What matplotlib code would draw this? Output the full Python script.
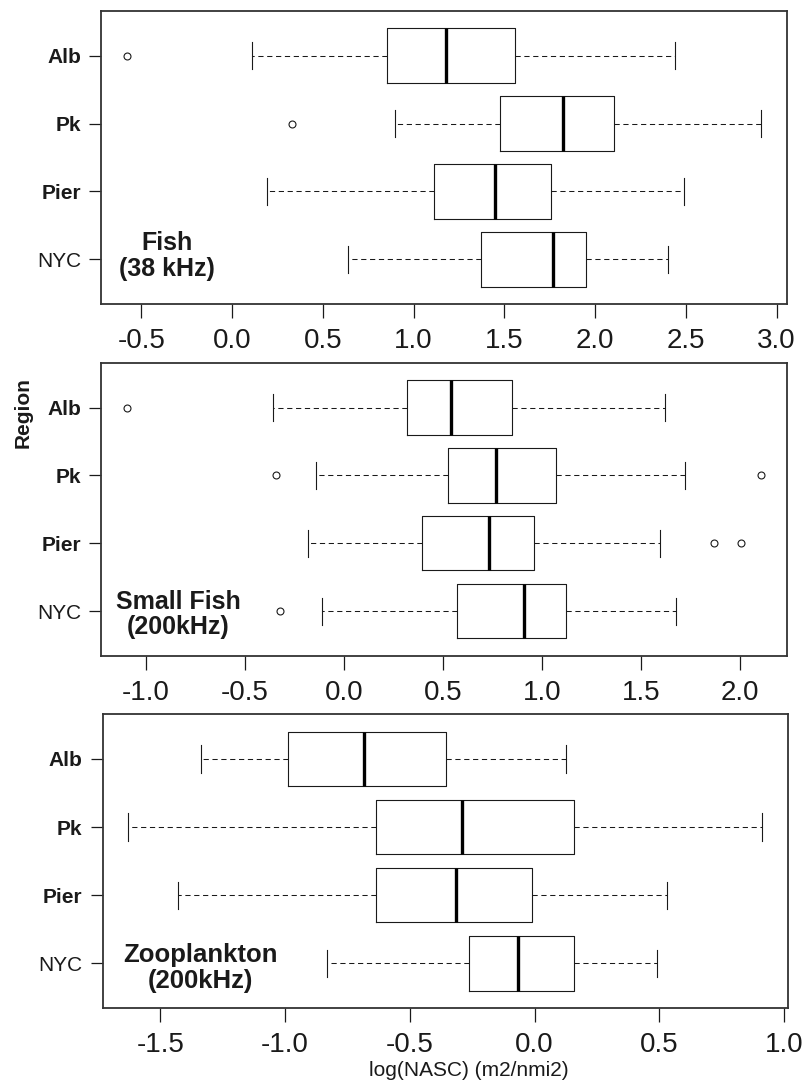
import numpy as np
import matplotlib
matplotlib.use('Agg')
import matplotlib.pyplot as plt

# fonts: Liberation Sans is metric compatible with Arial
plt.rcParams['font.family'] = ['Liberation Sans', 'DejaVu Sans']
plt.rcParams['axes.unicode_minus'] = False

# regions, bottom to top
regions = ['NYC', 'Pier', 'Pk', 'Alb']

# Fish (38 kHz)
fish_lo = [0.641, 0.191, 0.899, 0.110]
fish_q1 = [1.373, 1.115, 1.477, 0.853]
fish_med = [1.771, 1.448, 1.823, 1.178]
fish_q3 = [1.950, 1.759, 2.102, 1.560]
fish_hi = [2.404, 2.492, 2.916, 2.440]
fish_out = [[], [], [0.331], [-0.580]]

# Small Fish (200kHz)
small_lo = [-0.113, -0.182, -0.141, -0.357]
small_q1 = [0.570, 0.395, 0.525, 0.316]
small_med = [0.909, 0.734, 0.767, 0.539]
small_q3 = [1.119, 0.957, 1.072, 0.850]
small_hi = [1.676, 1.595, 1.721, 1.622]
small_out = [[-0.321], [1.869, 2.004], [-0.343, 2.107], [-1.097]]

# Zooplankton (200kHz)
zoo_lo = [-0.833, -1.430, -1.629, -1.336]
zoo_q1 = [-0.262, -0.636, -0.636, -0.987]
zoo_med = [-0.068, -0.315, -0.289, -0.684]
zoo_q3 = [0.160, -0.010, 0.160, -0.353]
zoo_hi = [0.490, 0.529, 0.913, 0.128]
zoo_out = [[], [], [], []]

W, H = 806, 1085
ink = '#1a1a1a'

fig = plt.figure(figsize=(W / 100, H / 100), dpi=100)


def px_axes(l, t, r, b):
    # axes from pixel box (left, top, right, bottom)
    return fig.add_axes([l / W, 1 - b / H, (r - l) / W, (b - t) / H])


def draw_panel(ax, lo, q1, med, q3, hi, out, ticks):
    stats = []
    for i in range(len(regions)):
        stats.append(dict(whislo=lo[i], q1=q1[i], med=med[i], q3=q3[i],
                          whishi=hi[i], fliers=out[i]))
    pos = np.arange(1, len(regions) + 1)
    ax.bxp(stats, positions=pos, widths=0.8, capwidths=0.4,
           orientation='horizontal', manage_ticks=False,
           boxprops=dict(color=ink, linewidth=0.8),
           whiskerprops=dict(color=ink, linewidth=0.75, linestyle=(0, (5, 3.5))),
           capprops=dict(color=ink, linewidth=0.8),
           medianprops=dict(color='black', linewidth=2.4, solid_capstyle='butt'),
           flierprops=dict(marker='o', markersize=5, markerfacecolor='none',
                           markeredgecolor=ink, markeredgewidth=0.8))
    # R style range: data extended by 4%
    allv = list(lo) + list(hi) + [v for o in out for v in o]
    span = max(allv) - min(allv)
    ax.set_xlim(min(allv) - 0.04 * span, max(allv) + 0.04 * span)
    ax.set_ylim(0.5 - 0.04 * 4, 4.5 + 0.04 * 4)
    ax.set_xticks(ticks)
    ax.set_xticklabels(['%.1f' % t for t in ticks])
    ax.set_yticks(pos)
    ax.set_yticklabels(regions)
    for lab in ax.get_yticklabels():
        lab.set_fontweight('normal' if lab.get_text() == 'NYC' else 'bold')
    ax.tick_params(axis='x', length=10, width=0.9, pad=7, labelsize=20,
                   colors=ink)
    ax.tick_params(axis='y', length=8.5, width=0.9, pad=6, labelsize=15,
                   colors=ink)
    for s in ax.spines.values():
        s.set_color('#333333')
        s.set_linewidth(1.3)


ax1 = px_axes(101.3, 10.7, 786.7, 304.3)
draw_panel(ax1, fish_lo, fish_q1, fish_med, fish_q3, fish_hi, fish_out,
           np.arange(-0.5, 3.01, 0.5))

ax2 = px_axes(101.3, 362.7, 786.7, 656)
draw_panel(ax2, small_lo, small_q1, small_med, small_q3, small_hi, small_out,
           np.arange(-1.0, 2.01, 0.5))

ax3 = px_axes(102.7, 714, 787.7, 1008.3)
draw_panel(ax3, zoo_lo, zoo_q1, zoo_med, zoo_q3, zoo_hi, zoo_out,
           np.arange(-1.5, 1.01, 0.5))

# panel labels
fig.text(167 / W, 1 - 256 / H, 'Fish\n(38 kHz)', fontsize=18, weight='bold',
         ha='center', va='center', multialignment='center', linespacing=1.1,
         color=ink)
fig.text(178 / W, 1 - 614.5 / H, 'Small Fish\n(200kHz)', fontsize=18,
         weight='bold', ha='center', va='center', multialignment='center',
         linespacing=1.1, color=ink)
fig.text(200 / W, 1 - 968 / H, 'Zooplankton\n(200kHz)', fontsize=18.5,
         weight='bold', ha='center', va='center', multialignment='center',
         linespacing=1.1, color=ink)

# axis titles
fig.text(23.5 / W, 1 - 412.6 / H, 'Region', rotation=90, fontsize=15,
         weight='bold', ha='center', va='center', color=ink)
fig.text(469 / W, 1 - 1071 / H, 'log(NASC) (m2/nmi2)', fontsize=15,
         ha='center', va='center', color=ink)

plt.savefig('out.png', dpi=100, facecolor='white')
